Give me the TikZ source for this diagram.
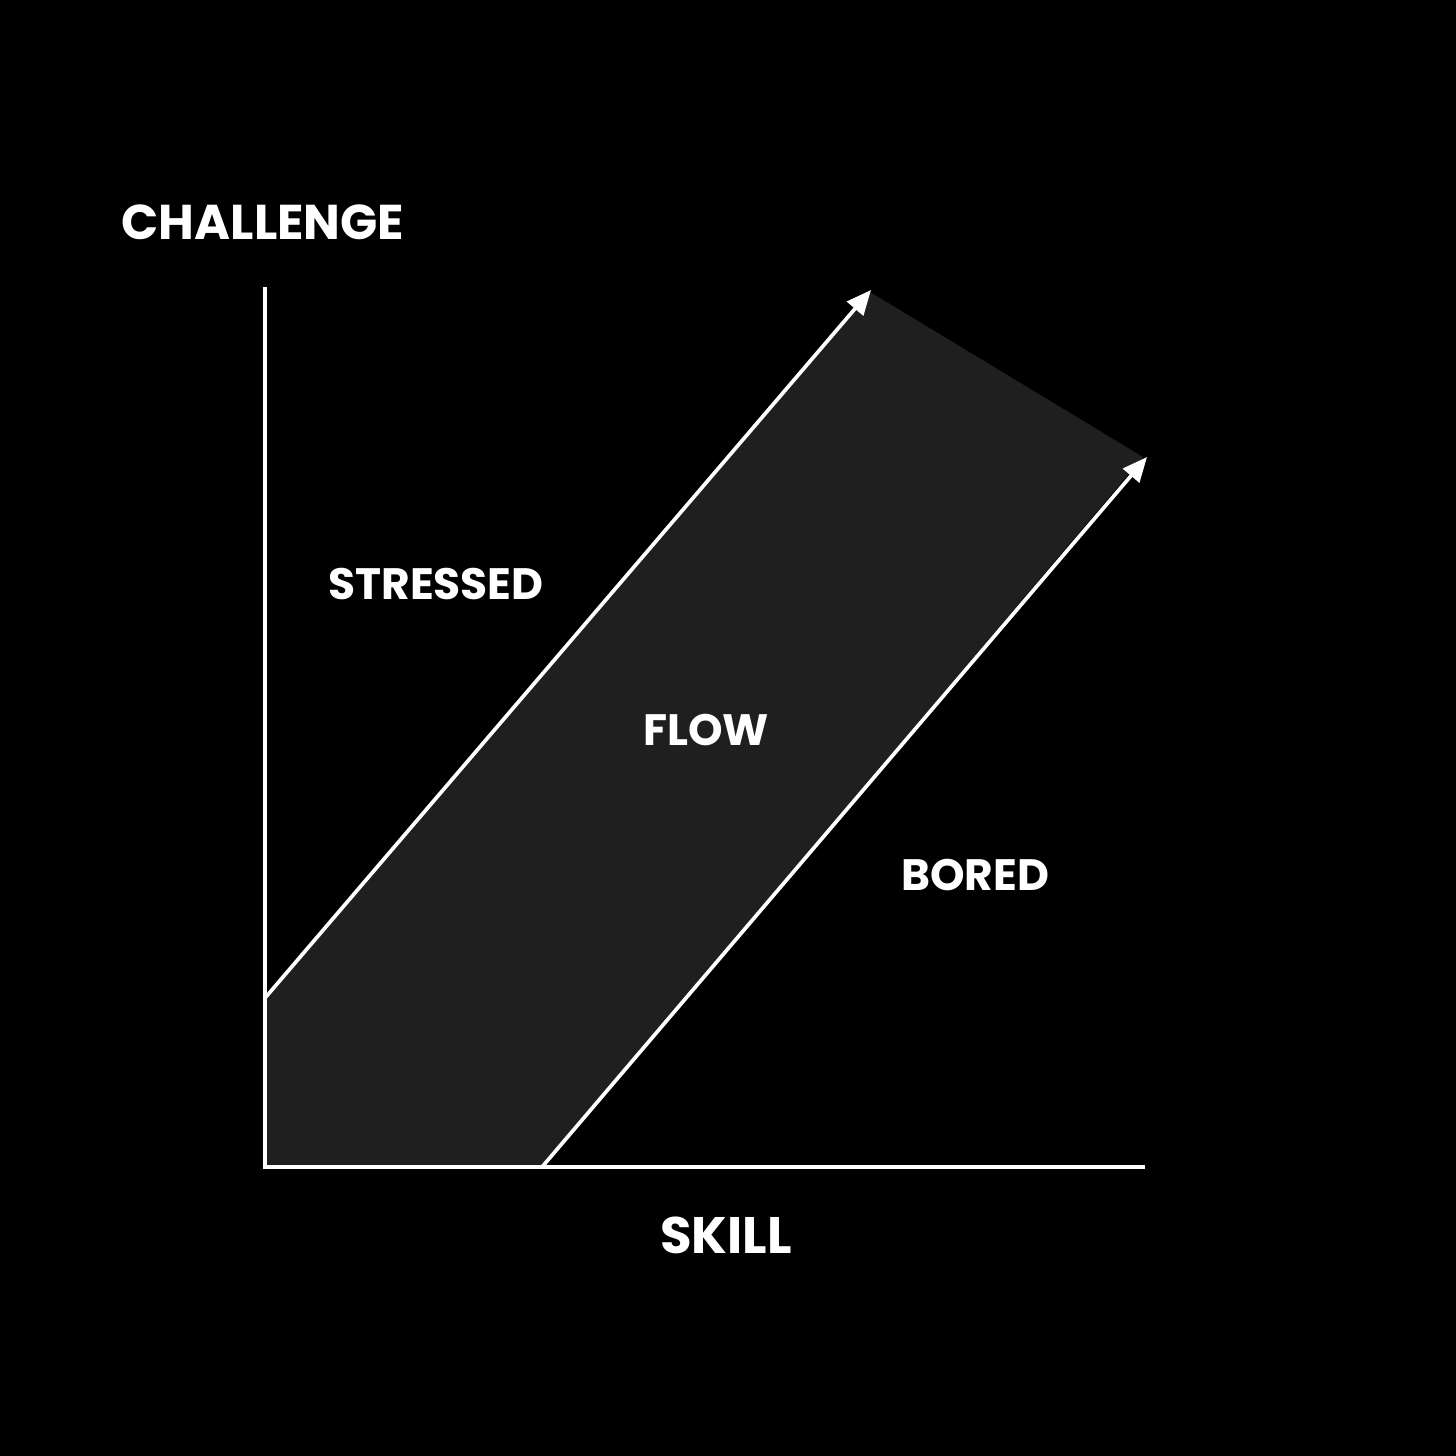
\documentclass[tikz,border=0pt]{standalone}
\usepackage{fontspec}
\setmainfont{Poppins}
\usetikzlibrary{arrows.meta}
\definecolor{bandgray}{HTML}{201F20}
\tikzset{
  axisline/.style={draw=white, line width=1.05pt},
  flowline/.style={draw=white, line width=1.05pt, -{Triangle[length=7pt,width=6pt]}},
  lbl/.style={text=white, font=\bfseries\fontsize{12.5}{14}\selectfont, inner sep=0pt, anchor=center},
  biglbl/.style={lbl, font=\bfseries\fontsize{13.9}{16}\selectfont},
  skilllbl/.style={lbl, font=\bfseries\fontsize{14.6}{17}\selectfont},
}
\begin{document}
\begin{tikzpicture}[x=0.01cm,y=-0.01cm]
\useasboundingbox (0,0) rectangle (1456,1456);
\fill[black] (0,0) rectangle (1456,1456);
\coordinate (O) at (265,1167);
\coordinate (ytop) at (265,287);
\coordinate (xend) at (1145,1167);
\coordinate (a0) at (265,998);
\coordinate (a1) at (871,290);
\coordinate (b0) at (542,1167);
\coordinate (b1) at (1147,457);
\coordinate (bc1) at (1143,457);
\coordinate (ac1) at (870,292);
\fill[bandgray] (a0) -- (ac1) -- (bc1) -- (b0) -- (O) -- cycle;
\draw[axisline] (ytop) -- (O) -- (xend);
\draw[flowline] (a0) -- (a1);
\draw[flowline] (b0) -- (b1);
\node[biglbl] (challenge) at (263,222) {CHALLENGE};
\node[skilllbl] (skill) at (726,1235) {SKILL};
\node[lbl] (stressed) at (436,584) {STRESSED};
\node[lbl] (flow) at (706,730) {FLOW};
\node[lbl] (bored) at (975,875) {BORED};
\end{tikzpicture}
\end{document}
